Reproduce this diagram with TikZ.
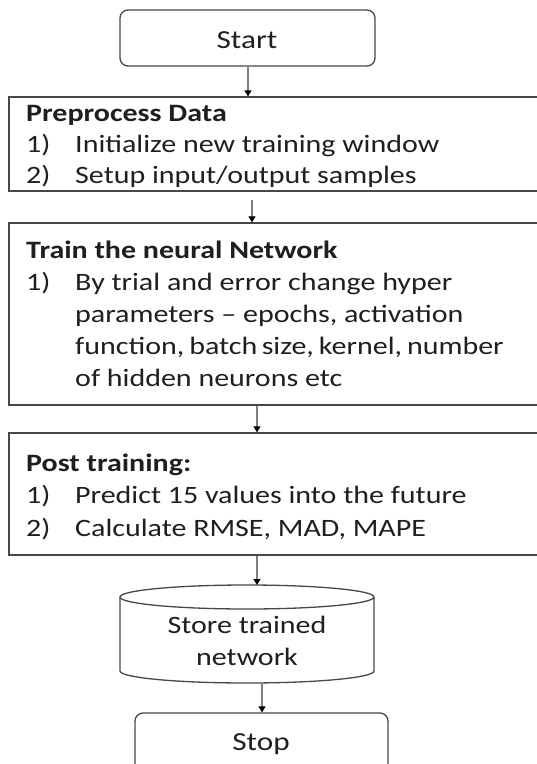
\documentclass[tikz,border=0pt]{standalone}
\usepackage{fontspec}
\setmainfont{Carlito}[FakeStretch=1.2]
\usetikzlibrary{arrows.meta}
\tikzset{
  boxline/.style={draw=black!72, line width=1.3pt, fill=white},
  stepbox/.style={boxline, rectangle, inner sep=0pt},
  termbox/.style={boxline, rectangle, rounded corners=8pt, inner sep=0pt},
  txt/.style={anchor=base west, inner sep=0pt, text=black!88, font=\fontsize{25}{30}\selectfont},
  ctxt/.style={anchor=base, inner sep=0pt, text=black!88, font=\fontsize{25}{30}\selectfont},
  ttl/.style={txt, font=\fontsize{25}{30}\selectfont\bfseries},
  conn/.style={draw=black!50, line width=1.1pt, -{Triangle[length=6pt,width=7pt,fill=black,color=black]}}
}
\begin{document}
\begin{tikzpicture}[x=1pt,y=-1pt]
\useasboundingbox (0,0) rectangle (537,764);
\clip (0,0) rectangle (537,764);

% Start
\node[termbox, minimum width=255pt, minimum height=56pt] (start) at (247.5,38) {};
\node[ctxt] (starttxt) at (247,48) {\fontsize{26}{30}\selectfont Start};

% Preprocess
\node[stepbox, minimum width=560pt, minimum height=94pt] (pre) at (289,144) {};
\node[ttl] (pret) at (26,121) {Preprocess Data};
\node[txt] (pren1) at (26,152) {1)};
\node[txt] (prei1) at (75,152) {Initialize new training window};
\node[txt] (pren2) at (26,183) {2)};
\node[txt] (prei2) at (75,183) {Setup input/output samples};

% Train
\node[stepbox, minimum width=560pt, minimum height=182pt] (train) at (289,314) {};
\node[ttl] (trt) at (26,258) {Train the neural Network};
\node[txt] (trn1) at (26,290) {1)};
\node[txt] (tri1) at (75,290) {By trial and error change hyper};
\node[txt] (tri2) at (75,322) {parameters -- epochs, activation};
\node[txt] (tri3) at (75,354) {\makebox[425pt][s]{function, batch size, kernel, number}};
\node[txt] (tri4) at (75,386) {of hidden neurons etc};

% Post training
\node[stepbox, minimum width=560pt, minimum height=122pt] (post) at (289,494) {};
\node[ttl] (pot) at (26,471) {Post training:};
\node[txt] (pon1) at (26,503) {1)};
\node[txt] (poi1) at (75,503) {Predict 15 values into the future};
\node[txt] (pon2) at (26,536) {2)};
\node[txt] (poi2) at (75,536) {Calculate RMSE, MAD, MAPE};

% Cylinder (store)
\draw[boxline] (120,597) -- (120,671) arc[start angle=180,end angle=360,x radius=127pt,y radius=12pt] -- (374,597);
\draw[boxline] (247,597) ellipse[x radius=127pt,y radius=12pt];
\coordinate (cyltop) at (257,585);
\coordinate (cylbot) at (262,683);
\node[ctxt] (st1) at (247,633) {Store trained};
\node[ctxt] (st2) at (247,665) {network};

% Stop
\node[termbox, minimum width=253pt, minimum height=70pt] (stop) at (261.5,748) {};
\node[ctxt] (stoptxt) at (261,750) {\fontsize{26}{30}\selectfont Stop};

% Connectors
\coordinate (a1) at (248,0);
\draw[conn] (start.south -| a1) -- (pre.north -| a1);
\coordinate (a2) at (252,0);
\draw[conn, shorten <=8pt] (pre.south -| a2) -- (train.north -| a2);
\coordinate (a3) at (257,0);
\draw[conn] (train.south -| a3) -- (post.north -| a3);
\draw[conn] (post.south -| cyltop) -- (cyltop);
\draw[conn] (cylbot) -- (stop.north -| cylbot);
\end{tikzpicture}
\end{document}
